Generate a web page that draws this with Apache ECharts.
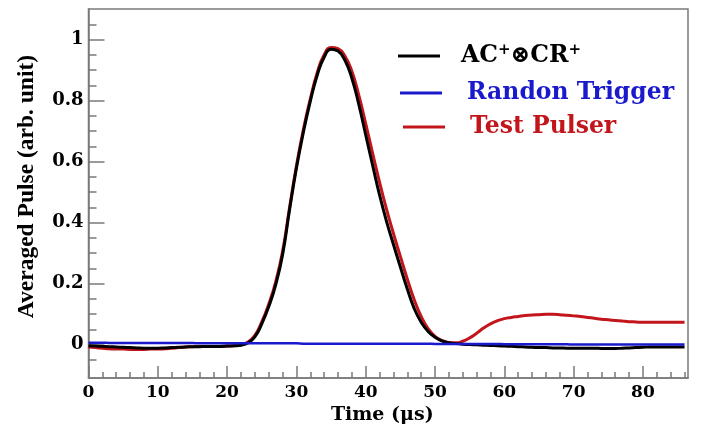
<!DOCTYPE html>
<html>
<head>
<meta charset="utf-8">
<script src="https://cdn.jsdelivr.net/npm/echarts@6/dist/echarts.min.js"></script>
<style>
html,body{margin:0;padding:0;background:#fff;}
#chart{width:702px;height:430px;}
</style>
</head>
<body>
<div id="chart"></div>
<script>
// sample times (µs)
var timeUs = [0,1,2,3,4,5,6,7,8,9,10,11,12,13,14,15,16,17,18,19,20,21,22,23,24,25,26,27,28,29,30,31,32,33,34,35,36,37,38,39,40,41,42,43,44,45,46,47,48,49,50,51,52,53,54,55,56,57,58,59,60,61,62,63,64,65,66,67,68,69,70,71,72,73,74,75,76,77,78,79,80,81,82,83,84,85,86];

var acCrPulse = [-0.004,-0.005,-0.006,-0.007,-0.008,-0.009,-0.010,-0.011,-0.012,-0.012,
  -0.012,-0.011,-0.010,-0.009,-0.008,-0.007,-0.007,-0.006,-0.006,-0.006,
  -0.005,-0.004,-0.002,0.005,0.025,0.068,0.124,0.195,0.294,0.440,
  0.578,0.695,0.797,0.883,0.942,0.968,0.962,0.932,0.873,0.787,
  0.687,0.587,0.490,0.404,0.328,0.254,0.182,0.118,0.073,0.043,
  0.024,0.012,0.006,0.003,0.001,0.000,-0.001,-0.002,-0.003,-0.004,
  -0.005,-0.006,-0.007,-0.008,-0.009,-0.010,-0.010,-0.011,-0.011,-0.012,
  -0.012,-0.012,-0.012,-0.012,-0.013,-0.013,-0.013,-0.012,-0.011,-0.010,
  -0.009,-0.008,-0.008,-0.008,-0.008,-0.008,-0.008];

var randomTrigger = [0.006,0.006,0.006,0.005,0.005,0.005,0.005,0.005,0.005,0.005,
  0.005,0.005,0.005,0.005,0.005,0.005,0.004,0.004,0.004,0.004,
  0.004,0.004,0.004,0.004,0.004,0.004,0.004,0.004,0.004,0.004,
  0.004,0.003,0.003,0.003,0.003,0.003,0.003,0.003,0.003,0.003,
  0.003,0.003,0.003,0.003,0.003,0.003,0.003,0.003,0.003,0.003,
  0.002,0.002,0.002,0.002,0.002,0.002,0.002,0.002,0.002,0.002,
  0.001,0.001,0.001,0.001,0.001,0.001,0.001,0.001,0.001,0.001,
  0.000,0.000,0.000,0.000,0.000,0.000,0.000,0.000,0.000,0.000,
  0.000,0.000,0.000,0.000,0.000,0.000,0.000];

var testPulser = [-0.008,-0.010,-0.012,-0.014,-0.015,-0.015,-0.016,-0.016,-0.016,-0.015,
  -0.015,-0.014,-0.012,-0.010,-0.008,-0.007,-0.006,-0.006,-0.006,-0.006,
  -0.005,-0.004,-0.001,0.008,0.030,0.074,0.132,0.205,0.305,0.448,
  0.586,0.705,0.805,0.891,0.950,0.974,0.970,0.946,0.896,0.818,
  0.724,0.627,0.532,0.444,0.364,0.289,0.215,0.147,0.092,0.052,
  0.027,0.013,0.007,0.006,0.011,0.022,0.037,0.054,0.068,0.078,
  0.085,0.089,0.092,0.095,0.097,0.098,0.099,0.099,0.098,0.096,
  0.094,0.092,0.089,0.086,0.083,0.081,0.079,0.077,0.075,0.074,
  0.073,0.073,0.073,0.073,0.073,0.073,0.073];

var xMajorTicks = [0,10,20,30,40,50,60,70,80];
var xMinorTicks = [2,4,6,8,12,14,16,18,22,24,26,28,32,34,36,38,42,44,46,48,52,54,56,58,62,64,66,68,72,74,76,78,82,84,86];
var yMajorTicks = [0,0.2,0.4,0.6,0.8,1];
var yMinorTicks = [-0.05,0.05,0.1,0.15,0.25,0.3,0.35,0.45,0.5,0.55,0.65,0.7,0.75,0.85,0.9,0.95,1.05];
var yTickLabels = ['0','0.2','0.4','0.6','0.8','1'];

var seriesNames = ['AC+⊗CR+','Randon Trigger','Test Pulser'];
var seriesColors = ['#000000','#1a1acc','#c3161c'];

function pairs(ys){ return timeUs.map(function(t,i){ return [t, ys[i]]; }); }

var frameColor = '#7a7a7a';

var chart = echarts.init(document.getElementById('chart'), null, {renderer:'canvas'});

function legendFor(idx, left, top, textPad){
  return {
    data:[{name:seriesNames[idx], textStyle:{color:seriesColors[idx]}}],
    left: left, top: top, padding: 0, orient:'vertical',
    icon:'rect', itemWidth: 42, itemHeight: 3,
    textStyle:{fontFamily:'DejaVu Serif', fontWeight:'bold', fontSize:23.5, lineHeight:26,
      padding:[0,0,0,textPad],
      rich:{sup:{fontFamily:'DejaVu Serif', fontWeight:'bold', fontSize:15, verticalAlign:'top', lineHeight:26, color:seriesColors[idx]}}},
    formatter: function(n){ return n === 'AC+⊗CR+' ? 'AC{sup|+}⊗CR{sup|+}' : n; },
    selectedMode:false
  };
}

chart.setOption({
  animation:false,
  backgroundColor:'#fff',
  grid:{left:88.5, right:14, top:9, bottom:48, show:true, borderColor:frameColor, borderWidth:1.5, backgroundColor:'transparent'},
  legend:[legendFor(0,398,43,16), legendFor(1,400,80,20), legendFor(2,403,114,20)],
  xAxis:[{
    type:'value', min:0, max:86.5,
    name:'Time (\u03bcs)', nameLocation:'middle', nameGap:24,
    nameTextStyle:{fontFamily:'DejaVu Serif', fontWeight:'bold', fontSize:19, color:'#000', padding:[0,12,0,0]},
    axisLine:{show:true, onZero:false, lineStyle:{color:frameColor, width:1.5}},
    axisTick:{show:true, inside:true, length:12, customValues:xMajorTicks, lineStyle:{color:frameColor, width:1.5}},
    axisLabel:{show:true, customValues:xMajorTicks, margin:6, fontSize:17, fontFamily:'DejaVu Serif', fontWeight:'bold', color:'#000'},
    splitLine:{show:false}
  },{
    type:'value', min:0, max:86.5, position:'bottom',
    axisLine:{show:false, onZero:false},
    axisTick:{show:true, inside:true, length:6, customValues:xMinorTicks, lineStyle:{color:frameColor, width:1.5}},
    axisLabel:{show:false}, splitLine:{show:false}
  }],
  yAxis:[{
    type:'value', min:-0.11, max:1.1,
    name:'Averaged Pulse (arb. unit)', nameLocation:'middle', nameGap:50, nameRotate:90,
    nameTextStyle:{fontFamily:'Liberation Serif', fontWeight:'bold', fontSize:23.5, color:'#000', padding:[0,0,0,14]},
    axisLine:{show:true, onZero:false, lineStyle:{color:frameColor, width:1.5}},
    axisTick:{show:true, inside:true, length:16, customValues:yMajorTicks, lineStyle:{color:frameColor, width:1.5}},
    axisLabel:{show:true, customValues:yMajorTicks, margin:5, fontSize:18, fontFamily:'DejaVu Serif', fontWeight:'bold', color:'#000',
      formatter:function(v){ var i = yMajorTicks.indexOf(Math.round(v*10)/10); return i>=0 ? yTickLabels[i] : ''; }},
    splitLine:{show:false}
  },{
    type:'value', min:-0.11, max:1.1, position:'left',
    axisLine:{show:false, onZero:false},
    axisTick:{show:true, inside:true, length:8, customValues:yMinorTicks, lineStyle:{color:frameColor, width:1.5}},
    axisLabel:{show:false}, splitLine:{show:false}
  }],
  series:[
    {name:seriesNames[2], type:'line', data:pairs(testPulser), symbol:'none', smooth:0.5, z:2,
      lineStyle:{color:seriesColors[2], width:3}, itemStyle:{color:seriesColors[2]}},
    {name:seriesNames[0], type:'line', data:pairs(acCrPulse), symbol:'none', smooth:0.5, z:3,
      lineStyle:{color:seriesColors[0], width:3}, itemStyle:{color:seriesColors[0]}},
    {name:seriesNames[1], type:'line', data:pairs(randomTrigger), symbol:'none', smooth:0.5, z:4,
      lineStyle:{color:seriesColors[1], width:2.5}, itemStyle:{color:seriesColors[1]}}
  ]
});
</script>
</body>
</html>
